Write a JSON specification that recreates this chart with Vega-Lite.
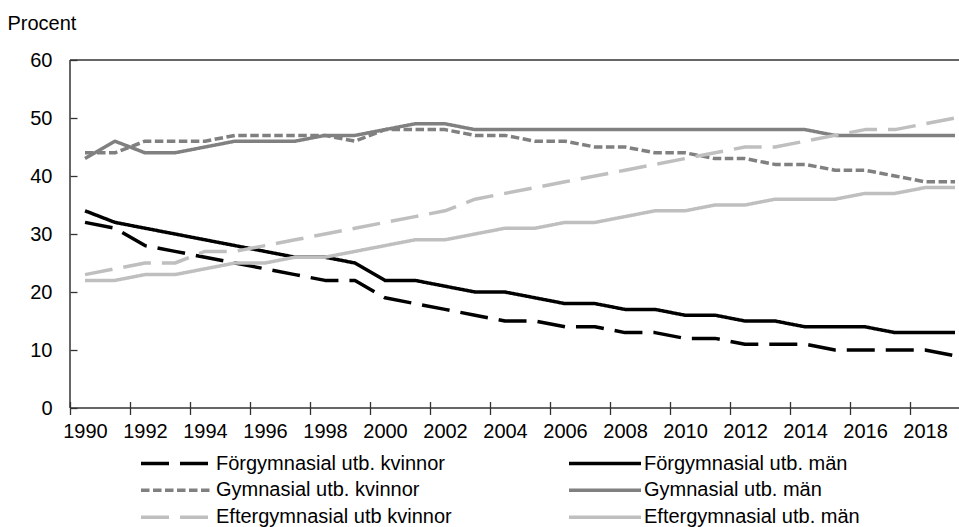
{
  "$schema": "https://vega.github.io/schema/vega-lite/v6.json",
  "width": 889,
  "height": 348,
  "autosize": {"type": "none"},
  "padding": {"left": 70, "top": 60, "right": 0, "bottom": 119},
  "config": {
    "view": {"stroke": null},
    "font": "Liberation Sans, Arial, sans-serif",
    "axis": {"labelColor": "#000000", "titleColor": "#000000", "tickColor": "#333333", "tickWidth": 1.3, "grid": false}
  },
  "data": {
    "values": [
      {"ar": 1990, "fk": 32, "fm": 34, "gk": 44, "gm": 43, "ek": 23, "em": 22},
      {"ar": 1991, "fk": 31, "fm": 32, "gk": 44, "gm": 46, "ek": 24, "em": 22},
      {"ar": 1992, "fk": 28, "fm": 31, "gk": 46, "gm": 44, "ek": 25, "em": 23},
      {"ar": 1993, "fk": 27, "fm": 30, "gk": 46, "gm": 44, "ek": 25, "em": 23},
      {"ar": 1994, "fk": 26, "fm": 29, "gk": 46, "gm": 45, "ek": 27, "em": 24},
      {"ar": 1995, "fk": 25, "fm": 28, "gk": 47, "gm": 46, "ek": 27, "em": 25},
      {"ar": 1996, "fk": 24, "fm": 27, "gk": 47, "gm": 46, "ek": 28, "em": 25},
      {"ar": 1997, "fk": 23, "fm": 26, "gk": 47, "gm": 46, "ek": 29, "em": 26},
      {"ar": 1998, "fk": 22, "fm": 26, "gk": 47, "gm": 47, "ek": 30, "em": 26},
      {"ar": 1999, "fk": 22, "fm": 25, "gk": 46, "gm": 47, "ek": 31, "em": 27},
      {"ar": 2000, "fk": 19, "fm": 22, "gk": 48, "gm": 48, "ek": 32, "em": 28},
      {"ar": 2001, "fk": 18, "fm": 22, "gk": 48, "gm": 49, "ek": 33, "em": 29},
      {"ar": 2002, "fk": 17, "fm": 21, "gk": 48, "gm": 49, "ek": 34, "em": 29},
      {"ar": 2003, "fk": 16, "fm": 20, "gk": 47, "gm": 48, "ek": 36, "em": 30},
      {"ar": 2004, "fk": 15, "fm": 20, "gk": 47, "gm": 48, "ek": 37, "em": 31},
      {"ar": 2005, "fk": 15, "fm": 19, "gk": 46, "gm": 48, "ek": 38, "em": 31},
      {"ar": 2006, "fk": 14, "fm": 18, "gk": 46, "gm": 48, "ek": 39, "em": 32},
      {"ar": 2007, "fk": 14, "fm": 18, "gk": 45, "gm": 48, "ek": 40, "em": 32},
      {"ar": 2008, "fk": 13, "fm": 17, "gk": 45, "gm": 48, "ek": 41, "em": 33},
      {"ar": 2009, "fk": 13, "fm": 17, "gk": 44, "gm": 48, "ek": 42, "em": 34},
      {"ar": 2010, "fk": 12, "fm": 16, "gk": 44, "gm": 48, "ek": 43, "em": 34},
      {"ar": 2011, "fk": 12, "fm": 16, "gk": 43, "gm": 48, "ek": 44, "em": 35},
      {"ar": 2012, "fk": 11, "fm": 15, "gk": 43, "gm": 48, "ek": 45, "em": 35},
      {"ar": 2013, "fk": 11, "fm": 15, "gk": 42, "gm": 48, "ek": 45, "em": 36},
      {"ar": 2014, "fk": 11, "fm": 14, "gk": 42, "gm": 48, "ek": 46, "em": 36},
      {"ar": 2015, "fk": 10, "fm": 14, "gk": 41, "gm": 47, "ek": 47, "em": 36},
      {"ar": 2016, "fk": 10, "fm": 14, "gk": 41, "gm": 47, "ek": 48, "em": 37},
      {"ar": 2017, "fk": 10, "fm": 13, "gk": 40, "gm": 47, "ek": 48, "em": 37},
      {"ar": 2018, "fk": 10, "fm": 13, "gk": 39, "gm": 47, "ek": 49, "em": 38},
      {"ar": 2019, "fk": 9, "fm": 13, "gk": 39, "gm": 47, "ek": 50, "em": 38}
    ]
  },
  "layer": [
    {
      "transform": [{"fold": ["fk", "fm", "gk", "gm", "ek", "em"], "as": ["serie", "value"]}],
      "mark": {"type": "line", "strokeJoin": "round"},
      "encoding": {
        "x": {
          "field": "ar",
          "type": "quantitative",
          "scale": {"domain": [1989.5, 2019.133], "nice": false, "zero": false},
          "axis": {
            "values": [1989.5, 1990.5, 1991.5, 1992.5, 1993.5, 1994.5, 1995.5, 1996.5, 1997.5, 1998.5, 1999.5, 2000.5, 2001.5, 2002.5, 2003.5, 2004.5, 2005.5, 2006.5, 2007.5, 2008.5, 2009.5, 2010.5, 2011.5, 2012.5, 2013.5, 2014.5, 2015.5, 2016.5, 2017.5, 2018.5],
            "labelExpr": "(datum.value + 0.5) % 2 == 0 ? '' + (datum.value + 0.5) : ''",
            "labelOffset": 15,
            "labelOverlap": false,
            "labelFlush": false,
            "labelBound": false,
            "offset": -6.5,
            "tickSize": 13,
            "domain": false,
            "title": null,
            "labelFontSize": 20,
            "labelPadding": 7,
            "labelAngle": 0
          }
        },
        "y": {
          "field": "value",
          "type": "quantitative",
          "scale": {"domain": [0, 60], "nice": false},
          "axis": {
            "values": [0, 10, 20, 30, 40, 50, 60],
            "offset": -7,
            "tickSize": 7,
            "domain": false,
            "labelFontSize": 20,
            "labelPadding": 18,
            "title": "Procent",
            "titleAngle": 0,
            "titleAlign": "left",
            "titleBaseline": "alphabetic",
            "titleX": -70,
            "titleY": -31,
            "titleFontSize": 20,
            "titleFontWeight": "normal"
          }
        },
        "color": {
          "field": "serie",
          "type": "nominal",
          "scale": {"domain": ["fk", "fm", "gk", "gm", "ek", "em"], "range": ["#000000", "#000000", "#808080", "#808080", "#bfbfbf", "#bfbfbf"]},
          "legend": {
            "title": null,
            "orient": "none",
            "direction": "horizontal",
            "legendX": 69,
            "legendY": 390,
            "columns": 2,
            "columnPadding": 115,
            "rowPadding": 0,
            "clipHeight": 26.7,
            "padding": 0,
            "symbolType": "stroke",
            "symbolSize": 5184,
            "labelFontSize": 20,
            "labelOffset": 1,
            "labelLimit": 400,
            "labelColor": "#000000",
            "labelExpr": "{'fk': 'Förgymnasial utb.  kvinnor', 'fm': 'Förgymnasial utb. män', 'gk': 'Gymnasial utb.  kvinnor', 'gm': 'Gymnasial utb.  män', 'ek': 'Eftergymnasial utb kvinnor', 'em': 'Eftergymnasial utb. män'}[datum.label]"
          }
        },
        "strokeDash": {
          "field": "serie",
          "type": "nominal",
          "scale": {"domain": ["fk", "fm", "gk", "gm", "ek", "em"], "range": [[28, 11], [1, 0], [8.5, 3.5], [1, 0], [28, 11], [1, 0]]}
        },
        "strokeWidth": {
          "field": "serie",
          "type": "nominal",
          "scale": {"domain": ["fk", "fm", "gk", "gm", "ek", "em"], "range": [3.5, 3.5, 3.5, 3.5, 3.5, 6]}
        }
      }
    },
    {
      "data": {"values": [{}]},
      "mark": {"type": "rule", "color": "#333333", "strokeWidth": 1.3},
      "encoding": {"y": {"datum": 60, "type": "quantitative"}}
    },
    {
      "data": {"values": [{}]},
      "mark": {"type": "rule", "color": "#333333", "strokeWidth": 1.5},
      "encoding": {"y": {"datum": 0, "type": "quantitative"}}
    },
    {
      "data": {"values": [{}]},
      "mark": {"type": "rule", "color": "#333333", "strokeWidth": 1.5},
      "encoding": {"x": {"datum": 1989.5, "type": "quantitative"}}
    }
  ]
}
